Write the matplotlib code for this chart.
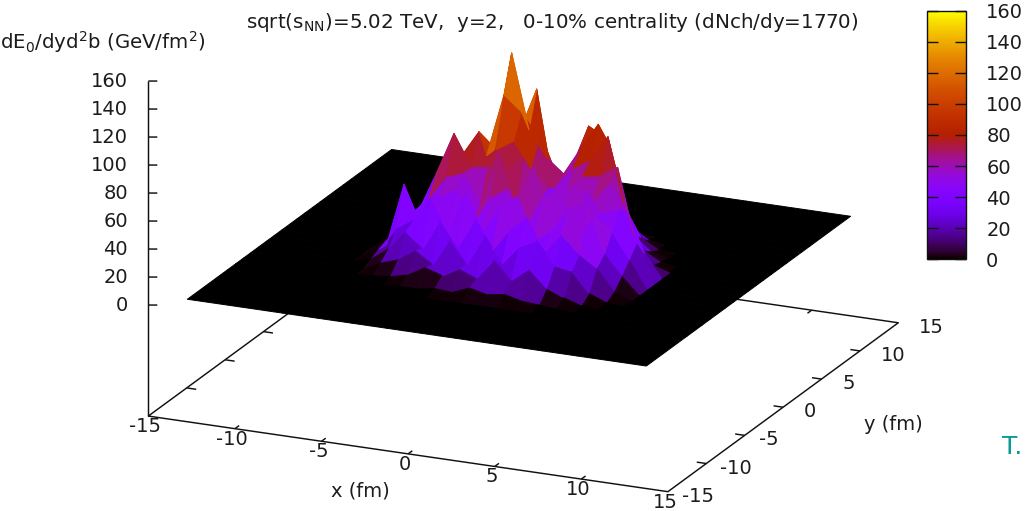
import numpy as np
import matplotlib
matplotlib.use('Agg')
import matplotlib.pyplot as plt
from matplotlib.colors import LinearSegmentedColormap, Normalize
from matplotlib.cm import ScalarMappable

W, H = 1027, 511
x_nodes = [-13.5, -9, -8, -7, -6, -5, -4, -3, -2, -1, 0, 1, 2, 3, 4, 5, 6, 7, 8, 9, 13.0]
y_nodes = [-13.3, -8, -7, -6, -5, -4, -3, -2, -1, 0, 1, 2, 3, 4, 5, 6, 7, 8, 13.3]
# energy density (GeV/fm^2); rows y=-7..7, columns x=-8..8
row_ym7 = [0, 0, 0, 0, 1, 1, 3, 2, 7, 4, 6, 3, 2, 1, 0, 0, 0]
row_ym6 = [0, 0, 1, 2, 5, 12, 8, 15, 10, 25, 12, 22, 10, 5, 1, 0, 0]
row_ym5 = [0, 0, 6, 10, 18, 10, 30, 14, 36, 18, 32, 38, 22, 20, 6, 1, 0]
row_ym4 = [0, 3, 12, 26, 16, 38, 20, 42, 22, 38, 48, 25, 40, 28, 20, 5, 0]
row_ym3 = [0, 6, 22, 30, 48, 25, 55, 30, 50, 58, 28, 38, 55, 60, 26, 12, 0]
row_ym2 = [0, 5, 50, 22, 45, 52, 28, 50, 58, 30, 55, 62, 30, 48, 38, 20, 0]
row_ym1 = [0, 4, 25, 38, 55, 60, 40, 78, 40, 72, 38, 52, 60, 45, 50, 28, 0]
row_y0 = [0, 2, 24, 52, 82, 60, 62, 60, 72, 45, 42, 58, 48, 62, 45, 16, 0]
row_y1 = [0, 2, 15, 59, 62, 81, 70, 78, 60, 48, 42, 60, 62, 70, 20, 4, 0]
row_y2 = [0, 1, 8, 35, 60, 60, 105, 95, 78, 45, 60, 68, 86, 35, 9, 2, 0]
row_y3 = [0, 0, 4, 25, 45, 60, 131, 78, 60, 50, 70, 89, 60, 14, 4, 0, 0]
row_y4 = [0, 0, 2, 12, 30, 80, 70, 103, 33, 50, 82, 75, 30, 8, 1, 0, 0]
row_y5 = [0, 0, 0, 3, 12, 30, 45, 60, 30, 45, 58, 40, 10, 2, 0, 0, 0]
row_y6 = [0, 0, 0, 0, 2, 6, 12, 16, 12, 10, 8, 3, 0, 0, 0, 0, 0]
row_y7 = [0, 0, 0, 0, 0, 0, 1, 2, 2, 1, 0, 0, 0, 0, 0, 0, 0]
rows = [row_ym7, row_ym6, row_ym5, row_ym4, row_ym3, row_ym2, row_ym1, row_y0,
        row_y1, row_y2, row_y3, row_y4, row_y5, row_y6, row_y7]

x_ticks = [-15, -10, -5, 0, 5, 10, 15]
y_ticks = [-15, -10, -5, 0, 5, 10, 15]
z_ticks = [0, 20, 40, 60, 80, 100, 120, 140, 160]
z_base = -79.3

INK = '#1c1c1c'
FS = 14
plt.rcParams['font.family'] = 'DejaVu Sans'
plt.rcParams['mathtext.default'] = 'regular'

# gnuplot "rgbformulae 7,5,15" palette
g = np.linspace(0, 1, 256)
cmap = LinearSegmentedColormap.from_list(
    'pm3d', np.c_[np.sqrt(g), g**3, np.clip(np.sin(2*np.pi*g), 0, 1)], N=256)
norm = Normalize(0, 160)

fig = plt.figure(figsize=(W/100, H/100), dpi=100)
side = W/H
ax = fig.add_axes([0, 0.5-side/2, 1, side], projection='3d')
ax.set_axis_off()
ax.patch.set_visible(False)
ax.computed_zorder = False
ax.set_xlim(-15, 15); ax.set_ylim(-15, 15); ax.set_zlim(z_base, 160)
ax.apply_aspect()

# linear gnuplot-like view: data -> figure pixels (y measured from the top)
def to_px(x, y, z):
    return (523.3 + 17.32*x + 7.68*y,
            258.4 + 2.52*x - 5.63*y - 1.40*z)

A = ax.transData.get_matrix()
P = np.array([[17.32, 7.68, 0, 523.3],
              [-2.52, 5.63, 1.40, H-258.4],
              [0, 0, 0, 1.0]])
Q = np.linalg.inv(A) @ P
M = np.array([Q[0], Q[1], [-2.52, 5.63, -0.6, -300.0], [0, 0, 0, 1.0]])
ax.get_proj = lambda: M

# base frame, below the surface
lk = dict(color='#111111', lw=1.05, solid_capstyle='butt', zorder=1)
ax.plot([-15, 15, 15, -15, -15], [-15, -15, 15, 15, -15], [z_base]*5, **lk)
ax.plot([-15, -15], [-15, -15], [z_base, 160], **lk)
for t in x_ticks[1:-1]:
    ax.plot([t, t], [-15, -14.45], [z_base]*2, **lk)
    ax.plot([t, t], [15, 14.45], [z_base]*2, **lk)
for t in y_ticks[1:-1]:
    ax.plot([-15, -14.45], [t, t], [z_base]*2, **lk)
    ax.plot([15, 14.45], [t, t], [z_base]*2, **lk)
for t in z_ticks:
    ax.plot([-15, -14.567], [-15, -14.806], [t, t], **lk)

# surface
zero = [0]*len(x_nodes)
Z = np.array([zero, zero] + [[0, 0] + r + [0, 0] for r in rows] + [zero, zero], dtype=float)
X, Y = np.meshgrid(x_nodes, y_nodes)
stack = np.stack([Z[:-1, :-1], Z[1:, :-1], Z[:-1, 1:], Z[1:, 1:]])
zmean, zmax = stack.mean(axis=0), stack.max(axis=0)
Zc = np.where(zmax < 14, zmean*0.5, 0.45*zmean + 0.55*zmax)
ax.plot_surface(X, Y, Z, rstride=1, cstride=1, facecolors=cmap(norm(Zc)),
                shade=False, linewidth=0.7,
                antialiased=True, zorder=2)

def ptext(px, py, s, ha='center', va='center', size=FS, color=INK):
    fig.text(px/W, 1-py/H, s, ha=ha, va=va, fontsize=size, color=color)

for t in x_ticks:
    u, v = to_px(t, -15, z_base)
    ptext(u-3, v+10.5, str(t))
for t in y_ticks:
    u, v = to_px(15, t, z_base)
    ptext(u + (14 if t < 0 else 21), v+4.5, str(t), ha='left')
for t in z_ticks:
    u, v = to_px(-15, -15, t)
    ptext(128, v, str(t), ha='right')

ptext(360, 491, 'x (fm)')
ptext(893, 424, 'y (fm)')
ptext(552.5, 22, r'sqrt(s$_{NN}$)=5.02 TeV,  y=2,   0-10% centrality (dNch/dy=1770)', size=14.35)
ptext(0, 42, r'dE$_0$/dyd$^2$b (GeV/fm$^2$)', ha='left', size=14.2)
ptext(1002, 447, 'T.', ha='left', size=18, color='#0a9a9a')

# colour box
cax = fig.add_axes([927.3/W, 1-259.3/H, (966-927.3)/W, (259.3-10.7)/H])
cb = fig.colorbar(ScalarMappable(norm=norm, cmap=cmap), cax=cax, ticks=z_ticks)
cb.minorticks_off()
cb.outline.set_linewidth(1.0)
cb.outline.set_edgecolor('#111111')
cax.tick_params(axis='y', direction='in', left=True, right=True, length=8, width=1.0,
                color='#111111', labelsize=FS, labelcolor=INK, pad=14.5)

fig.savefig('out.png', dpi=100)
